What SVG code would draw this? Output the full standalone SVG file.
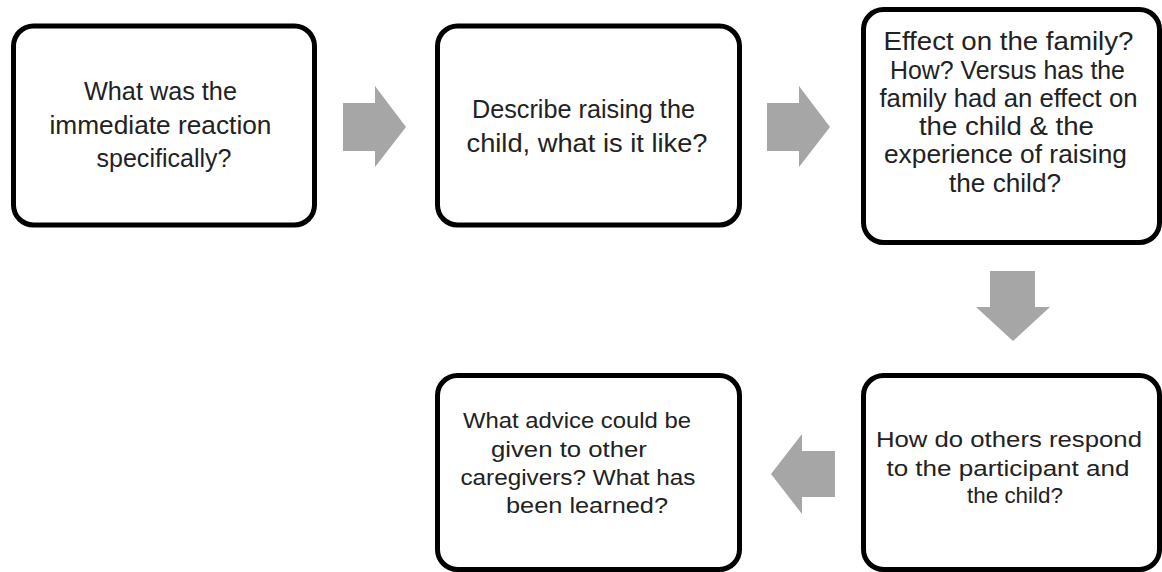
<svg xmlns="http://www.w3.org/2000/svg" width="1162" height="572" viewBox="0 0 1162 572">
  <style>
    .box { fill: #ffffff; stroke: #000000; stroke-width: 5; }
    .arrow { fill: #a6a6a6; stroke: none; }
    .label { font-family: "Liberation Sans", Arial, sans-serif; fill: #222222; text-anchor: middle; }
    .big { font-size: 25.5px; }
    .small { font-size: 22px; }
  </style>
  <rect width="1162" height="572" fill="#ffffff"/>

  <!-- flow arrows between the question boxes -->
  <g id="connectors">
    <polygon class="arrow" points="343,103 375,103 375,86 406,127 375,167 375,151 343,151"/>
    <polygon class="arrow" points="767,103 799,103 799,86 830,127 799,167 799,151 767,151"/>
    <polygon class="arrow" points="990,271 1035,271 1035,307 1050,307 1013,341 976,307 990,307"/>
    <polygon class="arrow" points="835,451 802,451 802,434 771,474 802,514 802,497 835,497"/>
  </g>

  <g id="node-reaction">
    <rect class="box" x="13.5" y="26" width="301" height="199" rx="20"/>
    <text class="label big">
      <tspan x="164" y="100" textLength="153" lengthAdjust="spacingAndGlyphs">What was the</tspan>
      <tspan x="164" y="134" textLength="222" lengthAdjust="spacingAndGlyphs">immediate reaction</tspan>
      <tspan x="164" y="167" textLength="135" lengthAdjust="spacingAndGlyphs">specifically?</tspan>
    </text>
  </g>

  <g id="node-raising">
    <rect class="box" x="437.5" y="26" width="302" height="199" rx="20"/>
    <text class="label big">
      <tspan x="587" y="118" textLength="223" lengthAdjust="spacingAndGlyphs">Describe raising the</tspan>
      <tspan x="587" y="152" textLength="241" lengthAdjust="spacingAndGlyphs">child, what is it like?</tspan>
    </text>
  </g>

  <g id="node-family">
    <rect class="box" x="863.5" y="9.5" width="296" height="233" rx="20"/>
    <text class="label big">
      <tspan x="1012" y="50" textLength="250" lengthAdjust="spacingAndGlyphs">Effect on the family?</tspan>
      <tspan x="1011" y="79" textLength="235" lengthAdjust="spacingAndGlyphs">How? Versus has the</tspan>
      <tspan x="1012" y="107" textLength="258" lengthAdjust="spacingAndGlyphs">family had an effect on</tspan>
      <tspan x="1010" y="135" textLength="175" lengthAdjust="spacingAndGlyphs">the child &amp; the</tspan>
      <tspan x="1009" y="163" textLength="243" lengthAdjust="spacingAndGlyphs">experience of raising</tspan>
      <tspan x="1005" y="192" textLength="112" lengthAdjust="spacingAndGlyphs">the child?</tspan>
    </text>
  </g>

  <g id="node-others">
    <rect class="box" x="863.5" y="375.5" width="296" height="194" rx="20"/>
    <text class="label small">
      <tspan x="1012" y="447" textLength="266" lengthAdjust="spacingAndGlyphs">How do others respond</tspan>
      <tspan x="1011" y="476" textLength="243" lengthAdjust="spacingAndGlyphs">to the participant and</tspan>
      <tspan x="1015" y="503" textLength="96" lengthAdjust="spacingAndGlyphs">the child?</tspan>
    </text>
  </g>

  <g id="node-advice">
    <rect class="box" x="437.5" y="375.5" width="302" height="194" rx="20"/>
    <text class="label small">
      <tspan x="580" y="428" textLength="228" lengthAdjust="spacingAndGlyphs">What advice could be</tspan>
      <tspan x="572" y="457" textLength="156" lengthAdjust="spacingAndGlyphs">given to other</tspan>
      <tspan x="581" y="485" textLength="235" lengthAdjust="spacingAndGlyphs">caregivers? What has</tspan>
      <tspan x="587" y="513" textLength="162" lengthAdjust="spacingAndGlyphs">been learned?</tspan>
    </text>
  </g>
</svg>
